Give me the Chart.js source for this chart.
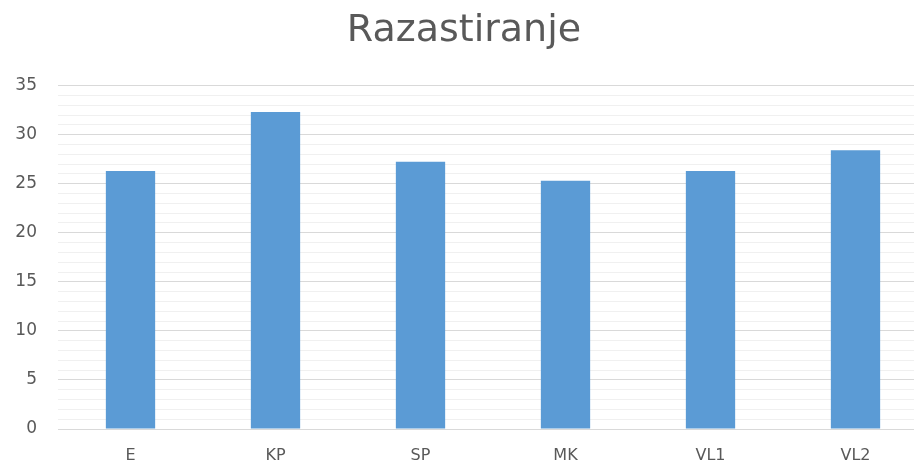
<!DOCTYPE html>
<html>
<head>
<meta charset="utf-8">
<script src="https://cdn.jsdelivr.net/npm/chart.js@4"></script>
<style>
  html, body { margin: 0; padding: 0; background: #fff; overflow: hidden; }
  #wrap { width: 930px; height: 463px; }
</style>
</head>
<body>
<div id="wrap"><canvas id="chart" width="930" height="463"></canvas></div>
<script>
// chart data
const categories = ['E', 'KP', 'SP', 'MK', 'VL1', 'VL2'];
const values = [26.3, 32.3, 27.25, 25.3, 26.3, 28.4];
const yTicks = [0, 5, 10, 15, 20, 25, 30, 35];

const textGray = '#595959';
const fontFamily = "'DejaVu Sans', 'Open Sans', sans-serif";

new Chart(document.getElementById('chart'), {
    type: 'bar',
    data: {
        labels: categories,
        datasets: [{
            label: 'Razastiranje',
            data: values,
            backgroundColor: '#5B9BD5',
            barPercentage: 0.34,
            categoryPercentage: 1
        }]
    },
    options: {
        responsive: false,
        animation: false,
        layout: { padding: { left: 0, right: 2, top: 0, bottom: 0 } },
        plugins: {
            legend: { display: false },
            tooltip: { enabled: false },
            title: {
                display: true,
                text: 'Razastiranje',
                color: textGray,
                font: { family: fontFamily, size: 38, weight: 'normal' },
                padding: { top: 8, bottom: 32 }
            }
        },
        scales: {
            x: {
                grid: { display: false, drawTicks: false },
                border: { color: '#d9d9d9' },
                ticks: {
                    color: textGray,
                    font: { family: fontFamily, size: 16 },
                    padding: 17
                },
                afterFit: function(scale) { scale.height = 34; }
            },
            y: {
                min: 0,
                max: 35,
                grid: {
                    drawTicks: false,
                    color: function(ctx) {
                        return ctx.tick && yTicks.includes(ctx.tick.value) ? '#d9d9d9' : '#f0f0f0';
                    }
                },
                border: { display: false },
                ticks: {
                    stepSize: 1,
                    autoSkip: false,
                    color: textGray,
                    font: { family: fontFamily, size: 17 },
                    padding: 21,
                    callback: function(v) { return yTicks.includes(v) ? v : ''; }
                },
                afterFit: function(scale) { scale.width = 58; }
            }
        }
    }
});
</script>
</body>
</html>
